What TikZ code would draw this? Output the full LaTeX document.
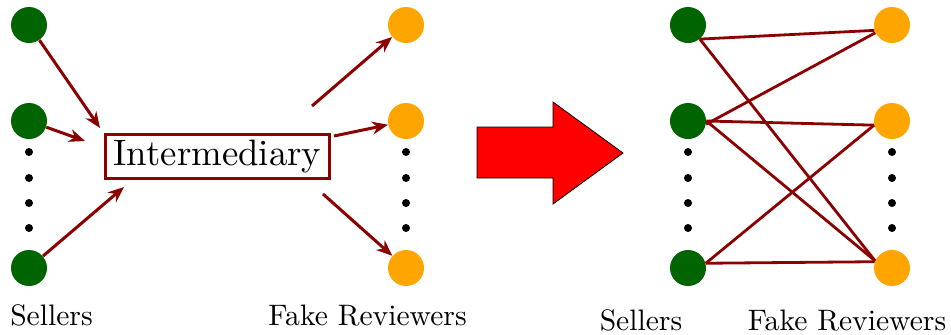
\documentclass[tikz,border=0pt]{standalone}
\usetikzlibrary{arrows.meta}
\definecolor{sellergreen}{RGB}{0,100,0}
\definecolor{fakeorange}{RGB}{255,165,0}
\definecolor{linkred}{RGB}{139,0,0}
\tikzset{
  seller/.style={circle, fill=sellergreen, minimum size=18pt, inner sep=0pt},
  reviewer/.style={circle, fill=fakeorange, minimum size=18pt, inner sep=0pt},
  flow/.style={-{Stealth[length=8pt,width=6.5pt]}, linkred, line width=1.5pt},
  link/.style={linkred, line width=1.4pt},
  lbl/.style={anchor=base, scale=1.48, font=\fontsize{10}{12}\selectfont}
}
\begin{document}
\begin{tikzpicture}[x=0.5pt, y=-0.5pt]
\useasboundingbox (0,0) rectangle (951,334);

% Before: through an intermediary
\node[seller] (a1) at (29,25) {};
\node[seller] (a2) at (29,121) {};
\node[seller] (a3) at (29,268) {};
\node[reviewer] (b1) at (406,25) {};
\node[reviewer] (b2) at (406,121) {};
\node[reviewer] (b3) at (406,268) {};
\foreach \y in {152,178,203,228} {
  \fill (29,\y) circle (2pt);
  \fill (406,\y) circle (2pt);
}
\node[draw=linkred, line width=1.5pt, scale=1.84, minimum width=61.1pt, minimum height=12.2pt,
  inner sep=0pt, font=\fontsize{10}{12}\selectfont] (mid) at (217.5,156.5) {Intermediary};

\coordinate (in1) at (100,128);
\coordinate (in2) at (85,141);
\coordinate (in3) at (124,187);
\coordinate (out1) at (312,106);
\coordinate (out2) at (334,136);
\coordinate (out3) at (323,194);
\draw[flow] (a1) -- (in1);
\draw[flow] (a2) -- (in2);
\draw[flow] (a3) -- (in3);
\draw[flow] (out1) -- (b1);
\draw[flow] (out2) -- (b2);
\draw[flow] (out3) -- (b3);

\node[lbl] (sl) at (51.5,325) {Sellers};
\node[lbl] (fl) at (367.5,325) {Fake Reviewers};

% Big arrow
\filldraw[fill=red, draw=black, line width=0.4pt]
  (477,127) -- (553,127) -- (553,102) -- (623,153) -- (553,204) -- (553,178) -- (477,178) -- cycle;

% After: direct links
\node[seller] (c1) at (688,25) {};
\node[seller] (c2) at (688,121) {};
\node[seller] (c3) at (688,268) {};
\node[reviewer] (d1) at (892,25) {};
\node[reviewer] (d2) at (892,121) {};
\node[reviewer] (d3) at (892,268) {};
\foreach \y in {152,178,203,228} {
  \fill (688,\y) circle (2pt);
  \fill (892,\y) circle (2pt);
}
\draw[link] (c1.310) -- (d1.197);
\draw[link] (c1.310) -- (d3.157);
\draw[link] (c2.350) -- (d1.205);
\draw[link] (c2.east) -- (d2.193);
\draw[link] (c2.east) -- (d3.157);
\draw[link] (c3.15) -- (d2.193);
\draw[link] (c3.15) -- (d3.160);

\node[lbl] (sr) at (641,330) {Sellers};
\node[lbl] (fr) at (847,330) {Fake Reviewers};
\end{tikzpicture}
\end{document}
